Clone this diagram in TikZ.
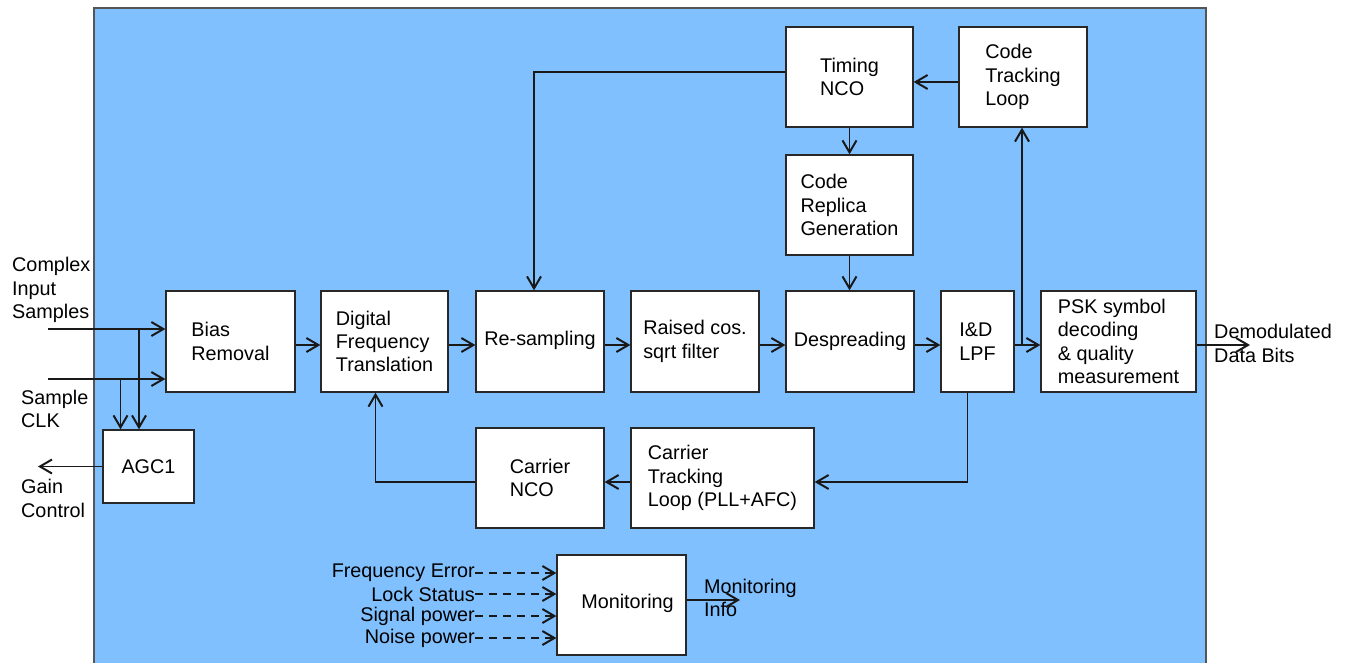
\documentclass[tikz,border=0pt]{standalone}
\usepackage{fontspec}
\setmainfont{Liberation Sans}
\usetikzlibrary{arrows.meta}
\definecolor{bgblue}{RGB}{128,192,255}
\definecolor{framegray}{RGB}{85,85,85}
\definecolor{boxline}{RGB}{40,40,40}
\begin{document}
\begin{tikzpicture}[x=1pt,y=-1pt,
  every node/.style={font=\fontsize{19.8}{23.3}\selectfont},
  blk/.style={draw=boxline, fill=white, line width=1.3pt, align=left, inner sep=2pt},
  lbl/.style={align=left, inner sep=0pt},
  conn/.style={line width=1.2pt, draw=black!90},
  arr/.style={conn, -{Straight Barb[length=12pt,width=14pt,line width=2pt]}},
  darr/.style={arr, dash pattern=on 8pt off 6pt}]
\useasboundingbox (0,0) rectangle (1347,662);
\fill[bgblue] (94,8) rectangle (1206,672);
\draw[framegray, line width=1.5pt] (94,672) -- (94,8) -- (1206,8) -- (1206,672);

% boxes
\node[blk, minimum width=129pt, minimum height=101pt] (bias)   at (230.5,341.5) {Bias\\Removal};
\node[blk, minimum width=127pt, minimum height=101pt] (dft)    at (384.5,341.5) {Digital\\Frequency\\Translation};
\node[blk, minimum width=128pt, minimum height=101pt] (resamp) at (540,341.5) {\raisebox{6pt}{Re-sampling}};
\node[blk, minimum width=128pt, minimum height=101pt] (raised) at (695,341.5) {Raised cos.\\sqrt filter};
\node[blk, minimum width=128pt, minimum height=101pt] (desp)   at (850,341.5) {Despreading};
\node[blk, minimum width=73pt,  minimum height=101pt] (idlpf)  at (977.5,341.5) {I\&D\\LPF};
\node[blk, minimum width=155pt, minimum height=101pt] (psk)    at (1118.5,341.5) {PSK symbol\\decoding\\\& quality\\measurement};
\node[blk, minimum width=127pt, minimum height=100pt] (timing) at (849.5,77) {Timing\\NCO};
\node[blk, minimum width=128pt, minimum height=100pt] (ctl)    at (1023,77) {Code\\Tracking\\Loop};
\node[blk, minimum width=127pt, minimum height=100pt] (crg)    at (849.5,205) {Code\\Replica\\Generation};
\node[blk, minimum width=91pt,  minimum height=73pt]  (agc)    at (148.5,466.5) {AGC1};
\node[blk, minimum width=128pt, minimum height=100pt] (cnco)   at (540,478) {Carrier\\NCO};
\node[blk, minimum width=183pt, minimum height=100pt] (ctrl)   at (722.5,478) {Carrier\\Tracking\\Loop (PLL+AFC)};
\node[blk, minimum width=129pt, minimum height=100pt] (mon)    at (621.5,605) {\raisebox{8pt}{\hspace*{12pt}Monitoring}};

% outside labels
\node[lbl, anchor=west] (cis)  at (12,290)  {Complex\\Input\\Samples};
\node[lbl, anchor=west] (sclk) at (21,409)  {Sample\\CLK};
\node[lbl, anchor=west] (gc)   at (21,498.5) {Gain\\Control};
\node[lbl, anchor=west] (ddb)  at (1214,343.5) {Demodulated\\Data Bits};
\node[lbl, anchor=west] (mi)   at (704,598) {Monitoring\\Info};
\node[lbl, anchor=east] (fe)   at (475,573) {Frequency Error};
\node[lbl, anchor=east] (ls)   at (475,594) {Lock Status};
\node[lbl, anchor=east] (sp)   at (475,616) {Signal power};
\node[lbl, anchor=east] (np)   at (475,638) {Noise power};

% coordinates for free ends and branch points
\coordinate (cin)  at (48,329);
\coordinate (clk)  at (48,379);
\coordinate (b1)   at (139,329);
\coordinate (b2)   at (120.5,379);
\coordinate (gain) at (38,466.5);
\coordinate (b3)   at (1022,345);
\coordinate (dout) at (1250,345);
\coordinate (mout) at (740,600);

% inputs
\draw[arr] (cin) -- (cin -| bias.west);
\draw[arr] (clk) -- (clk -| bias.west);
\draw[arr] (b1) -- (b1 |- agc.north);
\draw[arr] (b2) -- (b2 |- agc.north);
\draw[arr] (agc.west) -- (gain);

% main chain
\draw[arr] ([yshift=-3.5pt]bias.east)   -- ([yshift=-3.5pt]dft.west);
\draw[arr] ([yshift=-3.5pt]dft.east)    -- ([yshift=-3.5pt]resamp.west);
\draw[arr] ([yshift=-3.5pt]resamp.east) -- ([yshift=-3.5pt]raised.west);
\draw[arr] ([yshift=-3.5pt]raised.east) -- ([yshift=-3.5pt]desp.west);
\draw[arr] ([yshift=-3.5pt]desp.east)   -- ([yshift=-3.5pt]idlpf.west);
\draw[arr] ([yshift=-3.5pt]idlpf.east)  -- ([yshift=-3.5pt]psk.west);
\draw[arr] (b3) -- (b3 |- ctl.south);
\draw[arr] ([yshift=-3.5pt]psk.east) -- (dout);

% timing loop
\draw[arr] ([yshift=-5pt]ctl.west) -- ([yshift=-5pt]timing.east);
\draw[arr] ([yshift=5pt]timing.west) -| ([xshift=-6pt]resamp.north);
\draw[arr] (timing.south) -- (timing.south |- crg.north);
\draw[arr] (crg.south) -- (crg.south |- desp.north);

% carrier loop
\draw[arr] ([xshift=-10pt]idlpf.south) |- ([yshift=-4pt]ctrl.east);
\draw[arr] ([yshift=-4pt]ctrl.west) -- ([yshift=-4pt]cnco.east);
\draw[arr] ([yshift=-4pt]cnco.west) -| ([xshift=-9pt]dft.south);

% monitoring
\draw[darr] (fe.east) -- (fe.east -| mon.west);
\draw[darr] (ls.east) -- (ls.east -| mon.west);
\draw[darr] (sp.east) -- (sp.east -| mon.west);
\draw[darr] (np.east) -- (np.east -| mon.west);
\draw[arr] (mon.east |- mout) -- (mout);
\end{tikzpicture}
\end{document}
